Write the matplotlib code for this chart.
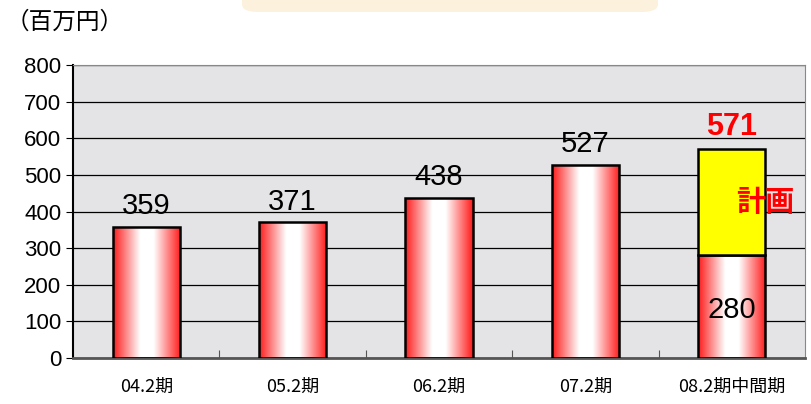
import matplotlib.pyplot as plt
import numpy as np
from matplotlib.colors import LinearSegmentedColormap
from matplotlib.patches import FancyBboxPatch

plt.rcParams['font.family'] = ['Noto Sans CJK JP', 'DejaVu Sans']
ziffern = ['Liberation Sans', 'Noto Sans CJK JP']

# Daten
kategorien = ['04.2期', '05.2期', '06.2期', '07.2期', '08.2期中間期']
ist = [359, 371, 438, 527, 280]
plan_gesamt = 571
werte_text = ['359', '371', '438', '527']

fig = plt.figure(figsize=(8.12, 4.04), dpi=100)
ax = fig.add_axes([73/812, 1-358/404, 732/812, 293/404])
ax.set_facecolor('#e4e4e6')

# dekoratives Feld oben
fig.patches.append(FancyBboxPatch((242/812, 1-12/404), 416/812, 30/404,
                                  boxstyle='round,pad=0,rounding_size=0.02',
                                  transform=fig.transFigure, fc='#fbf1dc', ec='none'))
fig.text(6/812, 1-22/404, '（百万円）', fontsize=17, va='center', ha='left')

ax.set_xlim(-0.5, 4.5)
ax.set_ylim(0, 800)
ax.set_yticks(range(0, 801, 100))
ax.yaxis.grid(True, color='black', lw=0.9)
ax.set_axisbelow(True)

# Farbverlauf rot-weiss-rot fuer die Balken
cmap = LinearSegmentedColormap.from_list(
    'rw', [(0, '#ff1a1a'), (0.4, '#ffffff'), (0.6, '#ffffff'), (1, '#ff1a1a')])
grad = np.linspace(0, 1, 256).reshape(1, -1)
breite = 0.46

bars = ax.bar(range(5), ist, width=breite, color='none', edgecolor='black', lw=1.8, zorder=3)
for i, b in enumerate(bars):
    im = ax.imshow(grad, cmap=cmap, aspect='auto', zorder=2.5,
                   extent=[i - breite/2, i + breite/2, 0, ist[i]])
    im.set_clip_path(b)

ax.bar(4, plan_gesamt - ist[4], bottom=ist[4], width=breite, color='#ffff00',
       edgecolor='black', lw=1.8, zorder=3)

for i in range(4):
    ax.text(i, ist[i] + 18, werte_text[i], ha='center', va='bottom', fontsize=21, family=ziffern)
ax.text(4, 130, str(ist[4]), ha='center', va='center', fontsize=21, family=ziffern)
ax.text(4, plan_gesamt + 18, str(plan_gesamt), ha='center', va='bottom', fontsize=22,
        color='red', fontweight='bold', family=ziffern)
ax.text(4.03, 425, '計画', ha='left', va='center', fontsize=21, color='red', fontweight='bold')

ax.set_xticks([0.5, 1.5, 2.5, 3.5])
ax.set_xticklabels([])
ax.tick_params(axis='x', direction='in', length=6, color='#555555')
ax.tick_params(axis='y', length=5, labelsize=16)
for lab in ax.get_yticklabels():
    lab.set_family(ziffern)
for i, k in enumerate(kategorien):
    ax.text(i, -80, k, ha='center', va='center', fontsize=13)

ax.spines['left'].set_linewidth(1.5)
ax.spines['bottom'].set_color('#555555')
ax.spines['bottom'].set_linewidth(2)
ax.spines['top'].set_color('#888888')
ax.spines['right'].set_color('#888888')

plt.savefig('out.png')
